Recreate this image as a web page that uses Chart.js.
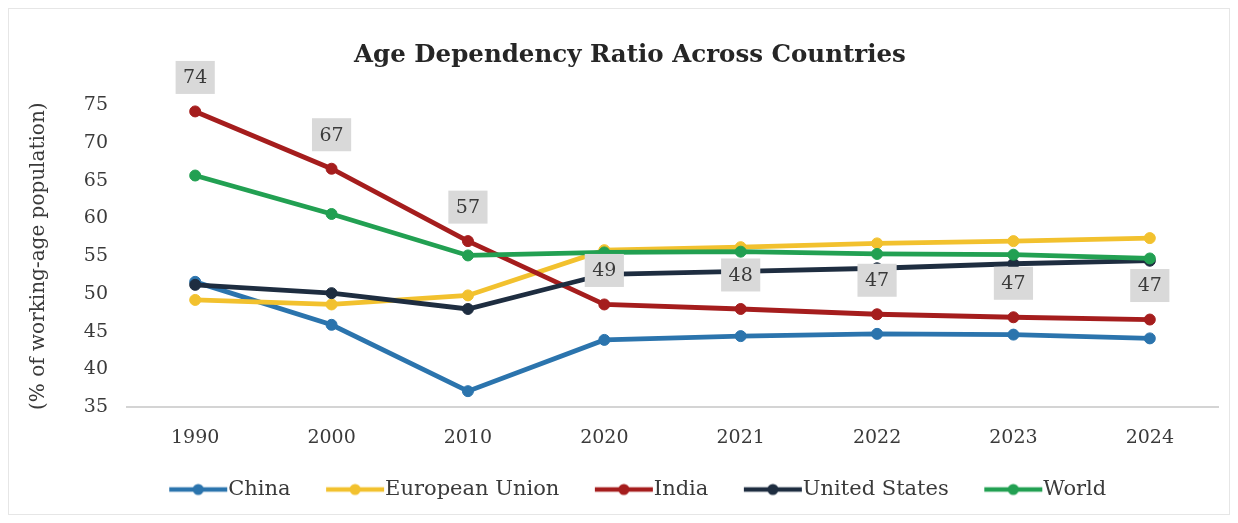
<!DOCTYPE html>
<html>
<head>
<meta charset="utf-8">
<title>Age Dependency Ratio Across Countries</title>
<script src="https://cdn.jsdelivr.net/npm/chart.js@4/dist/chart.umd.min.js"></script>
<style>
  html, body { margin: 0; padding: 0; background: #fff; }
  #wrap { width: 1238px; height: 523px; position: relative; }
</style>
</head>
<body>
<div id="wrap"><canvas id="ageChart" width="1238" height="523"></canvas></div>
<script>
const years = ['1990', '2000', '2010', '2020', '2021', '2022', '2023', '2024'];

const china = [51.6, 45.9, 37.1, 43.9, 44.4, 44.7, 44.6, 44.1];
const europeanUnion = [49.2, 48.6, 49.8, 55.8, 56.2, 56.7, 57.0, 57.4];
const india = [74.2, 66.6, 57.0, 48.6, 48.0, 47.3, 46.9, 46.6];
const unitedStates = [51.2, 50.1, 48.0, 52.6, 53.0, 53.4, 54.0, 54.4];
const world = [65.7, 60.6, 55.1, 55.5, 55.6, 55.3, 55.2, 54.7];

const seriesNames = ['China', 'European Union', 'India', 'United States', 'World'];
const seriesColors = ['#2b74ad', '#f2c12e', '#a51d1d', '#1e2d40', '#22a052'];

const SERIF = "'DejaVu Serif', 'Liberation Serif', serif";
const TEXT = '#3a3a3a';
const LEGEND_FONT = 21;
const SWATCH_BOX = 64;

// line + dot swatch for the legend; left part is left empty so the
// visible 60px line ends right where the label text starts
function legendSwatch(color) {
    const c = document.createElement('canvas');
    c.width = SWATCH_BOX + LEGEND_FONT;
    c.height = 14;
    const g = c.getContext('2d');
    const x0 = c.width - 60;
    g.strokeStyle = color;
    g.lineWidth = 4.5;
    g.beginPath();
    g.moveTo(x0 + 1, 7);
    g.lineTo(c.width - 1, 7);
    g.stroke();
    g.fillStyle = color;
    g.beginPath();
    g.arc(x0 + 30, 7, 5.5, 0, Math.PI * 2);
    g.fill();
    return c;
}

// grey boxes with the rounded India value above each point
const indiaLabels = {
    id: 'indiaLabels',
    afterDatasetsDraw(chart) {
        const idx = seriesNames.indexOf('India');
        const meta = chart.getDatasetMeta(idx);
        const ctx = chart.ctx;
        ctx.save();
        ctx.font = '19px ' + SERIF;
        ctx.textAlign = 'center';
        ctx.textBaseline = 'middle';
        meta.data.forEach((pt, i) => {
            const txt = String(Math.round(india[i]));
            const w = ctx.measureText(txt).width + 15;
            const h = 33;
            const cx = pt.x;
            const cy = pt.y - 34;
            ctx.fillStyle = '#d9d9d9';
            ctx.fillRect(cx - w / 2, cy - h / 2, w, h);
            ctx.fillStyle = TEXT;
            ctx.fillText(txt, cx, cy + 1);
        });
        ctx.restore();
    }
};

const frame = {
    id: 'frame',
    beforeDraw(chart) {
        const ctx = chart.ctx;
        ctx.save();
        ctx.strokeStyle = '#e6e6e6';
        ctx.lineWidth = 1;
        ctx.strokeRect(8.5, 8.5, chart.width - 17, chart.height - 17);
        ctx.restore();
    }
};

const allData = [china, europeanUnion, india, unitedStates, world];

const ctx = document.getElementById('ageChart').getContext('2d');
const ageChart = new Chart(ctx, {
    type: 'line',
    data: {
        labels: years,
        datasets: allData.map((values, i) => ({
            label: seriesNames[i],
            data: values,
            borderColor: seriesColors[i],
            backgroundColor: seriesColors[i],
            pointBackgroundColor: seriesColors[i],
            pointBorderColor: seriesColors[i],
            borderWidth: 4.8,
            pointRadius: 5.5,
            pointBorderWidth: 1,
            tension: 0,
            clip: false,
            // later series sit on top
            order: allData.length - 1 - i
        }))
    },
    options: {
        responsive: false,
        animation: false,
        layout: {
            padding: { left: 22, right: 0, top: 0, bottom: 13 }
        },
        plugins: {
            title: {
                display: true,
                text: 'Age Dependency Ratio Across Countries',
                color: '#262626',
                font: { family: SERIF, size: 24.5, weight: 'bold' },
                padding: { top: 41, bottom: 35 }
            },
            legend: {
                position: 'bottom',
                labels: {
                    color: TEXT,
                    font: { family: SERIF, size: LEGEND_FONT },
                    usePointStyle: true,
                    pointStyleWidth: SWATCH_BOX,
                    padding: 20,
                    sort: (a, b) => a.datasetIndex - b.datasetIndex,
                    generateLabels(chart) {
                        const items = Chart.defaults.plugins.legend.labels.generateLabels(chart);
                        items.forEach(it => { it.pointStyle = legendSwatch(seriesColors[it.datasetIndex]); });
                        return items;
                    }
                }
            },
            tooltip: { enabled: false }
        },
        scales: {
            x: {
                offset: true,
                grid: { display: false, drawTicks: false },
                border: { display: true, color: '#d4d4d4', width: 2 },
                ticks: {
                    color: TEXT,
                    font: { family: SERIF, size: 19 },
                    padding: 20,
                    maxRotation: 0
                },
                afterFit(scale) { scale.height = 52; }
            },
            y: {
                min: 35,
                max: 75,
                grid: { display: false, drawTicks: false },
                border: { display: false },
                ticks: {
                    stepSize: 5,
                    color: TEXT,
                    font: { family: SERIF, size: 19 },
                    padding: 19
                },
                title: {
                    display: true,
                    text: '(% of working-age population)',
                    color: TEXT,
                    font: { family: SERIF, size: 20 },
                    padding: { top: 5, bottom: 0 }
                },
                afterFit(scale) { scale.width = 105; }
            },
            // empty right-hand margin axis
            yRight: {
                position: 'right',
                display: true,
                grid: { display: false, drawTicks: false },
                border: { display: false },
                ticks: { display: false },
                afterFit(scale) { scale.width = 20; }
            }
        }
    },
    plugins: [frame, indiaLabels]
});
</script>
</body>
</html>
